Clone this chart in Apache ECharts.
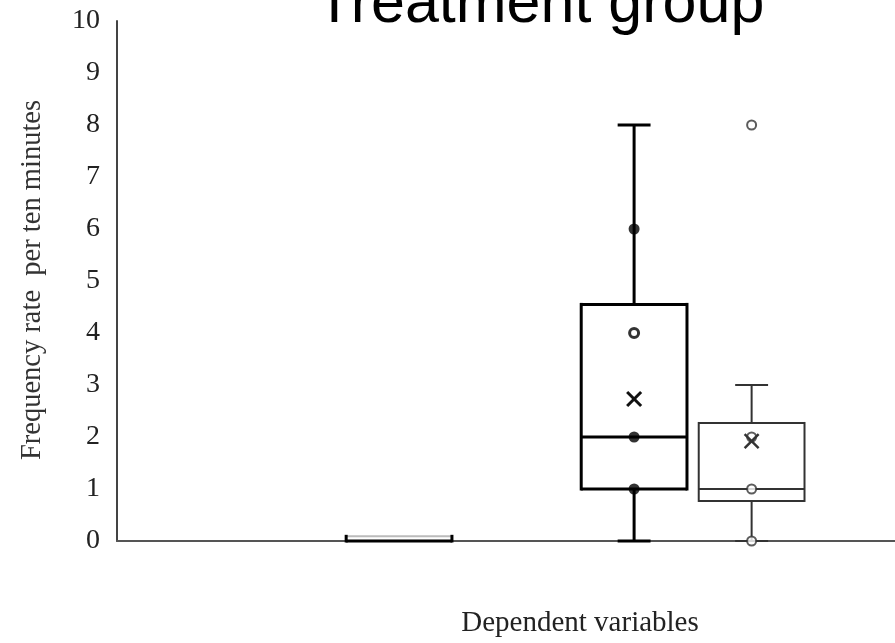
<!DOCTYPE html>
<html>
<head>
<meta charset="utf-8">
<script src="https://cdn.jsdelivr.net/npm/echarts@6/dist/echarts.min.js"></script>
<style>
html,body{margin:0;padding:0;background:#fff;}
#chart{width:895px;height:643px;}
</style>
</head>
<body>
<div id="chart"></div>
<script>
// ---- data ----
const boxSlots = [1, 3, 4];
const boxMin = [0, 0, 0];
const boxQ1 = [0, 1, 0.77];
const boxMedian = [0, 2, 1];
const boxQ3 = [0.09, 4.55, 2.27];
const boxMax = [0.09, 8, 3];

const meanSlots = [3, 4];
const meanValues = [2.73, 1.92];

const solidPointSlots = [3, 3, 3];
const solidPointValues = [6, 2, 1];
const ringPointSlots = [3];
const ringPointValues = [4];
const thinRingSlots = [4, 4, 4, 4];
const thinRingValues = [8, 2, 1, 0];

const yMin = 0, yMax = 10, yStep = 1;
const titleText = 'Treatment group';
const yTitle = 'Frequency rate  per ten minutes';
const xTitle = 'Dependent variables';

// ---- styles (by box index) ----
const boxStyles = [
  {stroke: '#000', lw: 3, top: '#bbb', topLw: 2},
  {stroke: '#000', lw: 3, top: '#000', topLw: 3},
  {stroke: '#333', lw: 2, top: '#333', topLw: 2}
];
const meanStyles = [{stroke: '#111', lw: 3}, {stroke: '#333', lw: 2.4}];

const boxData = boxSlots.map((s, i) => [s, boxMin[i], boxQ1[i], boxMedian[i], boxQ3[i], boxMax[i]]);

function line(x1, y1, x2, y2, stroke, lw) {
  return {type: 'line', shape: {x1, y1, x2, y2}, style: {stroke, lineWidth: lw, lineCap: 'butt'}};
}

function renderBox(params, api) {
  const i = params.dataIndex;
  const st = boxStyles[i];
  const p = api.value(0);
  const unit = api.size([1, 0])[0];
  const halfW = unit * 0.45, capHalf = unit * 0.14;
  const cx = api.coord([p, 0])[0];
  const Y = v => api.coord([p, v])[1];
  const yMn = Y(api.value(1)), yQ1 = Y(api.value(2)), yMd = Y(api.value(3)), yQ3 = Y(api.value(4)), yMx = Y(api.value(5));
  const l = cx - halfW, r = cx + halfW;
  const ch = [];
  if (yMn - yQ1 > 1) {
    ch.push(line(cx, yMn, cx, yQ1, st.stroke, st.lw));
    ch.push(line(cx - capHalf, yMn, cx + capHalf, yMn, st.stroke, st.lw));
  }
  if (yQ3 - yMx > 1) {
    ch.push(line(cx, yQ3, cx, yMx, st.stroke, st.lw));
    ch.push(line(cx - capHalf, yMx, cx + capHalf, yMx, st.stroke, st.lw));
  }
  ch.push({type: 'rect', shape: {x: l, y: yQ3, width: r - l, height: yQ1 - yQ3}, style: {fill: '#fff'}});
  ch.push(line(l, yQ3, r, yQ3, st.top, st.topLw));
  ch.push(line(l, yQ1, r, yQ1, st.stroke, st.lw));
  ch.push(line(l, yQ3 - st.lw / 2, l, yQ1 + st.lw / 2, st.stroke, st.lw));
  ch.push(line(r, yQ3 - st.lw / 2, r, yQ1 + st.lw / 2, st.stroke, st.lw));
  if (yQ1 - yQ3 > 8) ch.push(line(l, yMd, r, yMd, st.stroke, st.lw));
  return {type: 'group', children: ch};
}

function renderMean(params, api) {
  const st = meanStyles[params.dataIndex];
  const pt = api.coord([api.value(0), api.value(1)]);
  const h = 7;
  return {type: 'group', children: [
    line(pt[0] - h, pt[1] - h, pt[0] + h, pt[1] + h, st.stroke, st.lw),
    line(pt[0] - h, pt[1] + h, pt[0] + h, pt[1] - h, st.stroke, st.lw)
  ]};
}

const chart = echarts.init(document.getElementById('chart'), null, {renderer: 'canvas'});
chart.setOption({
  animation: false,
  backgroundColor: '#fff',
  grid: {left: 117, right: 0, top: 21, bottom: 102, containLabel: false},
  xAxis: {
    type: 'value', min: -1.4, max: 5.22,
    axisLine: {show: true, onZero: true, lineStyle: {color: '#555', width: 2}},
    axisTick: {show: false}, axisLabel: {show: false}, splitLine: {show: false}
  },
  yAxis: {
    type: 'value', min: yMin, max: yMax, interval: yStep,
    axisLine: {show: true, onZero: false, lineStyle: {color: '#444', width: 2}},
    axisTick: {show: false}, splitLine: {show: false},
    axisLabel: {margin: 17, color: '#222', fontFamily: 'Liberation Serif', fontSize: 28}
  },
  graphic: [
    {type: 'text', x: 540, y: 5, z: 100,
     style: {text: titleText, font: '61px "Liberation Sans"', fill: '#000', align: 'center', verticalAlign: 'middle'}},
    {type: 'text', x: 33, y: 280, rotation: Math.PI / 2, z: 100,
     style: {text: yTitle, font: '28.5px "Liberation Serif"', fill: '#333', align: 'center', verticalAlign: 'middle'}},
    {type: 'text', x: 580, y: 623, z: 100,
     style: {text: xTitle, font: '29px "Liberation Serif"', fill: '#222', align: 'center', verticalAlign: 'middle'}}
  ],
  series: [
    {type: 'custom', renderItem: renderBox, data: boxData, clip: false, z: 2, encode: {x: 0, y: [1, 2, 3, 4, 5]}},
    {type: 'scatter', data: solidPointSlots.map((s, i) => [s, solidPointValues[i]]), symbol: 'circle', symbolSize: 11,
     itemStyle: {color: '#000'}, z: 3},
    {type: 'scatter', data: ringPointSlots.map((s, i) => [s, ringPointValues[i]]), symbol: 'circle', symbolSize: 9,
     itemStyle: {color: '#fff', borderColor: '#000', borderWidth: 3}, z: 3},
    {type: 'scatter', data: thinRingSlots.map((s, i) => [s, thinRingValues[i]]), symbol: 'circle', symbolSize: 9,
     itemStyle: {color: '#fff', borderColor: '#333', borderWidth: 2}, z: 3},
    {type: 'custom', renderItem: renderMean, data: meanSlots.map((s, i) => [s, meanValues[i]]), clip: false, z: 4}
  ]
});
</script>
</body>
</html>
